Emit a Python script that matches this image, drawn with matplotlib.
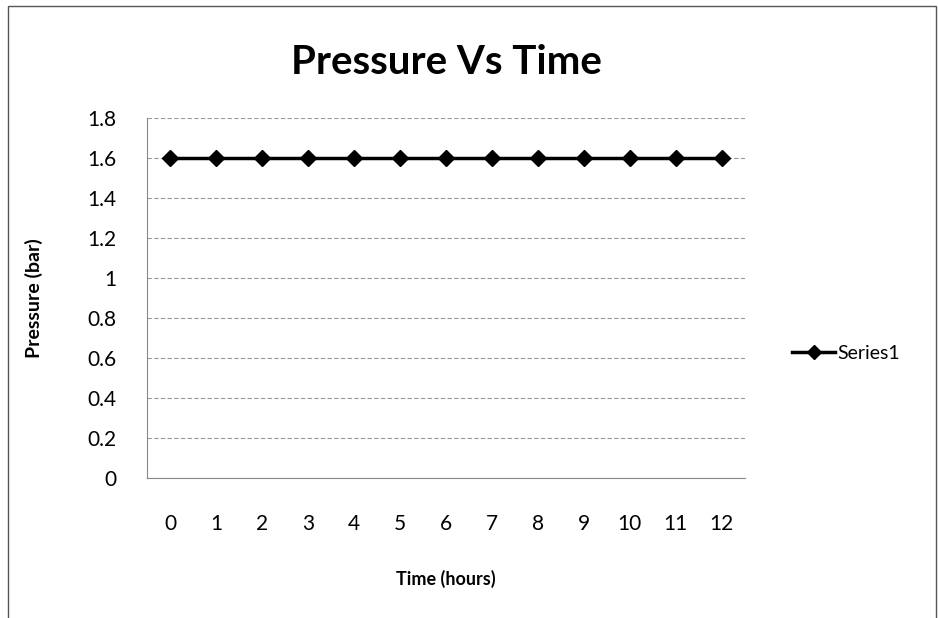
import numpy as np
import matplotlib.pyplot as plt
from matplotlib.patches import Rectangle

time_hours = [str(h) for h in range(13)]
pressure = [1.6, 1.6, 1.6, 1.6, 1.6, 1.6, 1.6, 1.6, 1.6, 1.6, 1.6, 1.6, 1.6]
y_ticks = [0, 0.2, 0.4, 0.6, 0.8, 1, 1.2, 1.4, 1.6, 1.8]
y_labels = ['0', '0.2', '0.4', '0.6', '0.8', '1', '1.2', '1.4', '1.6', '1.8']

plt.rcParams['font.family'] = ['Lato', 'DejaVu Sans']

fig = plt.figure(figsize=(9.38, 6.18), dpi=100)
ax = fig.add_axes([0.157, 0.227, 0.637, 0.582])

x = np.arange(len(time_hours))
ax.plot(x, pressure, color='black', lw=2.5, marker='D', ms=8, label='Series1')

ax.set_xlim(-0.5, len(time_hours) - 0.5)
ax.set_ylim(0, 1.8)
ax.set_yticks(y_ticks)
ax.set_yticklabels(y_labels)
ax.set_xticks(x)
ax.set_xticklabels(time_hours)
ax.tick_params(axis='both', length=0, labelsize=15, colors='black')
ax.tick_params(axis='x', pad=26)
ax.tick_params(axis='y', pad=22)
ax.yaxis.grid(True, color='#999999', lw=0.8, ls=(0, (4, 2)))
for s in ['top', 'right']:
    ax.spines[s].set_visible(False)
ax.spines['left'].set_color('#888888')
ax.spines['bottom'].set_color('#888888')

ax.set_title('Pressure Vs Time', fontsize=29, fontweight='bold', pad=32)
ax.set_xlabel('Time (hours)', fontsize=13, fontweight='bold', labelpad=26)
ax.set_ylabel('Pressure (bar)', fontsize=14, fontweight='bold', labelpad=32)

ax.legend(loc='center left', bbox_to_anchor=(1.05, 0.345), frameon=False,
          fontsize=14, handlelength=2.2, handletextpad=0.1, markerscale=0.9)

fig.patches.append(Rectangle((0.008, -0.01), 0.99, 1.0, transform=fig.transFigure,
                             fill=False, edgecolor='#555555', lw=1))

fig.savefig('out.png', dpi=100)
